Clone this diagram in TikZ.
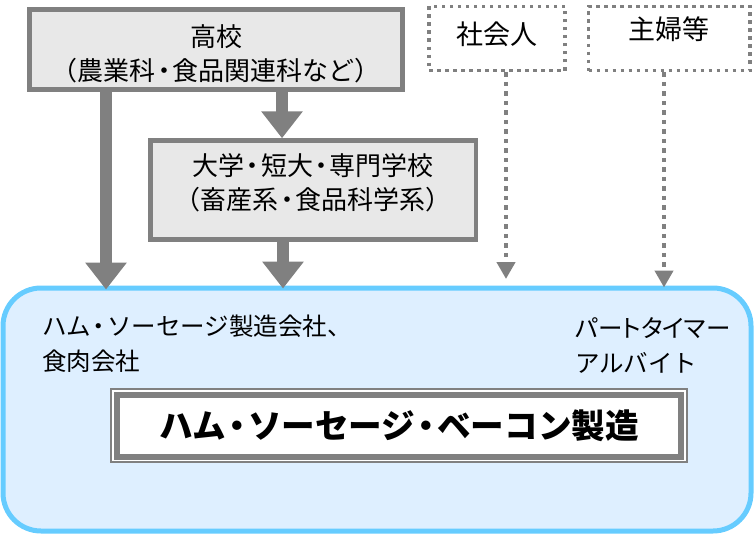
\documentclass[tikz,border=0pt]{standalone}
\usepackage{fontspec}
\setmainfont{Noto Sans CJK JP}
\usetikzlibrary{arrows.meta}
\definecolor{gr}{HTML}{808080}
\definecolor{boxfill}{HTML}{E8E8E8}
\definecolor{bl}{HTML}{66CCFF}
\definecolor{blfill}{HTML}{DEEFFF}
\newcommand{\ndot}{\makebox[0.65em][c]{・}}
\tikzset{
 graybox/.style={draw=gr, line width=4.5pt, fill=boxfill, inner sep=0pt},
 dotbox/.style={draw=gr, line width=3.5pt, dash pattern=on 3.5pt off 4.5pt, inner sep=0pt},
 bigarrow/.style={draw=gr, line width=12pt, -{Triangle[width=40pt,length=27pt]}},
 dotarrow/.style={draw=gr, line width=4.5pt, dash pattern=on 4.5pt off 5pt, -{Triangle[width=18pt,length=17pt]}},
 lbl/.style={font=\fontsize{26}{34}\selectfont, align=center, inner sep=0pt},
 inlbl/.style={font=\fontsize{24.5}{35}\selectfont, align=left, inner sep=0pt, anchor=west},
 toplbl/.style={font=\fontsize{27}{30}\selectfont, inner sep=0pt},
}
\begin{document}
\begin{tikzpicture}[x=1pt,y=-1pt]
\useasboundingbox (0,0) rectangle (754,535);
% workplace box
\node[draw=bl, fill=blfill, line width=5pt, rounded corners=38pt, minimum width=748pt, minimum height=243pt, inner sep=0pt] (ws) at (377,409.5) {};
% school boxes
\node[graybox, minimum width=373pt, minimum height=80pt] (hs) at (216,49.5) {};
\node[lbl] (hst) at (216,53.5) {高校\\（農業科\ndot 食品関連科など）};
\node[graybox, minimum width=325.5pt, minimum height=99pt] (uni) at (313.25,190) {};
\node[lbl] (unit) at (313,183) {大学\ndot 短大\ndot 専門学校\\（畜産系\ndot 食品科学系）};
% dotted boxes
\node[dotbox, minimum width=136pt, minimum height=64pt] (sh) at (497,38.5) {};
\node[toplbl] (sht) at (497,34) {社会人};
\node[dotbox, minimum width=161.5pt, minimum height=64pt] (hf) at (669.25,38.5) {};
\node[toplbl] (hft) at (669,29) {主婦等};
% coordinates
\coordinate (x1) at (106,0);
\coordinate (x2) at (282,0);
\coordinate (x3) at (283,0);
\coordinate (x4) at (506,0);
\coordinate (x5) at (664,0);
\coordinate (e4) at (506,279);
% arrows
\draw[bigarrow, shorten >=-4pt] (hs.south -| x1) -- (ws.north -| x1);
\draw[bigarrow] (hs.south -| x2) -- (uni.north -| x2);
\draw[bigarrow, shorten >=-3pt] (uni.south -| x3) -- (ws.north -| x3);
\draw[dotarrow] (sh.south -| x4) -- (e4);
\draw[dotarrow, shorten >=-2pt] (hf.south -| x5) -- (ws.north -| x5);
% texts in workplace
\node[inlbl] (co) at (42,344) {ハム\ndot ソーセージ製造会社、\\食肉会社};
\node[inlbl] (pt) at (575,345) {\addfontfeatures{RawFeature=+palt}パートタイマー\\アルバイト};
% main box
\node[draw=gr, line width=2pt, fill=white, minimum width=576pt, minimum height=73pt, inner sep=0pt] (mo) at (399,425.5) {};
\node[draw=gr, line width=6pt, minimum width=564pt, minimum height=62pt, inner sep=0pt, font=\fontsize{33.6}{36}\selectfont\bfseries] (mk) at (399,426) {ハム\ndot ソーセージ\ndot ベーコン製造};
\end{tikzpicture}
\end{document}
